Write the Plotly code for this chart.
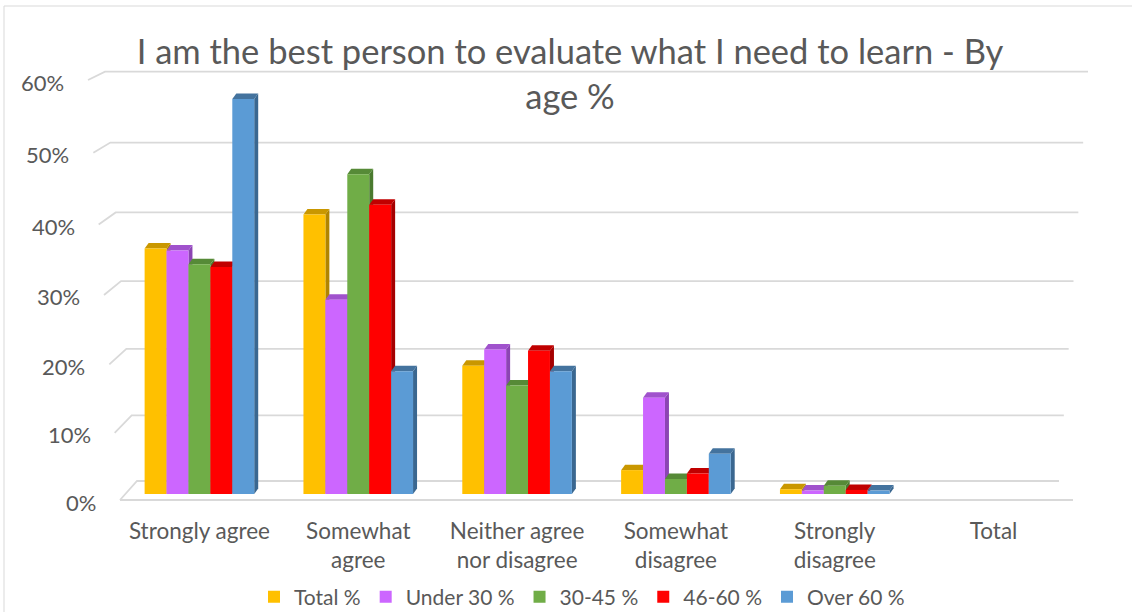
import plotly.graph_objects as go

# ---- data -------------------------------------------------------------
categories = ["Strongly agree", "Somewhat<br>agree", "Neither agree<br>nor disagree",
              "Somewhat<br>disagree", "Strongly<br>disagree", "Total"]
series_names = ["Total %", "Under 30 %", "30-45 %", "46-60 %", "Over 60 %"]

total_pct = [36.0, 41.0, 18.8, 3.5, 0.7, None]
under30_pct = [35.7, 28.5, 21.2, 14.1, 0.5, None]
age30_45_pct = [33.7, 46.9, 15.9, 2.2, 1.2, None]
age46_60_pct = [33.3, 42.4, 21.0, 3.0, 0.6, None]
over60_pct = [57.9, 18.0, 18.0, 5.9, 0.5, None]

y_ticks = [0, 10, 20, 30, 40, 50, 60]
y_tick_labels = ["0%", "10%", "20%", "30%", "40%", "50%", "60%"]

title_text = "I am the best person to evaluate what I need to learn - By<br>age %"

# ---- styling ----------------------------------------------------------
colors = ["#FFC000", "#CC66FF", "#70AD47", "#FF0000", "#5B9BD5"]
cap_colors = ["#C99700", "#A052CC", "#568A37", "#C00000", "#44739E"]
side_colors = ["#B08400", "#8C44B3", "#4A7A2F", "#A50000", "#3A6790"]
TEXT = "#595959"
GRID = "#D9D9D9"
FONT = "Lato"

W, H = 1132, 612

def fx(p):
    return p / W

def fy(p):
    return 1 - p / H

# plot area geometry (pixels)
X_LEFT, X_RIGHT = 120.0, 1073.0
Y_BASE, Y_TOP = 494.0, 60.0
PX_PER_PCT = 6.82
y_max = (Y_BASE - Y_TOP) / PX_PER_PCT
cat_px = (X_RIGHT - X_LEFT) / len(categories)

GROUP_W = 0.69
bar_w = GROUP_W / len(series_names)
depth_dx = 4.0 / cat_px          # depth offset of the 3-D faces, x units
depth_dy = 5.5 / PX_PER_PCT      # depth offset of the 3-D faces, % units

series_values = [total_pct, under30_pct, age30_45_pct, age46_60_pct, over60_pct]

fig = go.Figure()
for name, vals, col in zip(series_names, series_values, colors):
    fig.add_trace(go.Bar(
        x=list(range(len(categories))), y=vals, name=name,
        marker=dict(color=col, line=dict(width=0)),
    ))

shapes = []

# perspective wall / floor gridlines
def wall_front_x(v):
    return 120 - 0.533 * v

def wall_front_y(v):
    return 500 - 1.026 * (6.5 * v + 0.00536 * v * v)

def wall_back_y(v):
    return 481 - (6.5 * v + 0.00536 * v * v)

def wall_right_x(v):
    return 1059 + 29 * v / 60

for v in y_ticks:
    x0, y0 = wall_front_x(v), wall_front_y(v)
    x1, y1 = x0 + 17, wall_back_y(v)
    x2 = wall_right_x(v)
    shapes.append(dict(
        type="path", xref="paper", yref="paper", layer="below",
        path=f"M {fx(x0)},{fy(y0)} L {fx(x1)},{fy(y1)} L {fx(x2)},{fy(y1)}",
        line=dict(color=GRID, width=1.8),
    ))
# front edge of the floor
shapes.append(dict(
    type="line", xref="paper", yref="paper", layer="below",
    x0=fx(wall_front_x(0)), y0=fy(wall_front_y(0)), x1=fx(1073), y1=fy(wall_front_y(0)),
    line=dict(color=GRID, width=1.8),
))

# top and side faces of every column
for j, (vals, cap, side) in enumerate(zip(series_values, cap_colors, side_colors)):
    for i, v in enumerate(vals):
        if v is None:
            continue
        xc = i - GROUP_W / 2 + (j + 0.5) * bar_w
        xa, xb = xc - bar_w / 2, xc + bar_w / 2
        shapes.append(dict(
            type="path", xref="x", yref="y", layer="below",
            path=(f"M {xb},0 L {xb},{v} L {xb + depth_dx},{v + depth_dy} "
                  f"L {xb + depth_dx},{depth_dy} Z"),
            fillcolor=side, line=dict(width=0),
        ))
        shapes.append(dict(
            type="path", xref="x", yref="y", layer="below",
            path=(f"M {xa},{v} L {xb},{v} L {xb + depth_dx},{v + depth_dy} "
                  f"L {xa + depth_dx},{v + depth_dy} Z"),
            fillcolor=cap, line=dict(width=0),
        ))

# chart frame
shapes.append(dict(
    type="rect", xref="paper", yref="paper", layer="below",
    x0=fx(4), y0=fy(6), x1=1.02, y1=-0.02,
    line=dict(color=GRID, width=1), fillcolor="rgba(0,0,0,0)",
))

# value axis labels follow the slanted left wall
annotations = []
for v, lab in zip(y_ticks, y_tick_labels):
    annotations.append(dict(
        x=fx(wall_front_x(v) - 22), y=fy(wall_front_y(v) + 2),
        xref="paper", yref="paper", xanchor="right", yanchor="middle",
        text=lab, showarrow=False, font=dict(family=FONT, size=22, color=TEXT),
    ))

fig.update_layout(
    width=W, height=H,
    margin=dict(l=0, r=0, t=0, b=0, autoexpand=False),
    paper_bgcolor="white", plot_bgcolor="rgba(0,0,0,0)",
    barmode="group", bargap=1 - GROUP_W, bargroupgap=0,
    title=dict(text=title_text, x=fx(570), xanchor="center",
               y=fy(64), yanchor="top",
               font=dict(family=FONT, size=34.5, color=TEXT)),
    xaxis=dict(domain=[fx(X_LEFT), fx(X_RIGHT)], range=[-0.5, len(categories) - 0.5],
               tickvals=list(range(len(categories))), ticktext=categories,
               tickfont=dict(family=FONT, size=22.5, color=TEXT),
               showgrid=False, zeroline=False, showline=False, ticks="",
               ticklabelstandoff=21, automargin=False),
    yaxis=dict(domain=[fy(Y_BASE), fy(Y_TOP)], range=[0, y_max],
               showgrid=False, zeroline=False, showline=False,
               showticklabels=False, ticks="", automargin=False),
    legend=dict(orientation="h", x=fx(582), xanchor="center",
                y=fy(597), yanchor="middle",
                font=dict(family=FONT, size=21, color=TEXT),
                itemclick=False, itemdoubleclick=False),
    shapes=shapes,
    annotations=annotations,
    showlegend=True,
)

fig.write_html("out.html")
